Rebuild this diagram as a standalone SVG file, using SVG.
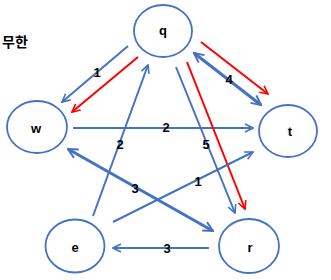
<svg xmlns="http://www.w3.org/2000/svg" width="331" height="280" viewBox="0 0 331 280">
<style>
.node{fill:#fff;stroke:#4472C4;stroke-width:1.8}
.nl{font-family:"Liberation Sans",Arial,sans-serif;font-size:13px;font-weight:bold;fill:#000;text-anchor:middle;dominant-baseline:central}
.b{stroke:#4472C4;stroke-width:2;fill:none}
.bt{stroke:#4472C4;stroke-width:3;fill:none}
.r{stroke:#FF0000;stroke-width:2;fill:none}
.el{font-family:"Liberation Sans",Arial,sans-serif;font-size:13px;font-weight:bold;fill:#000;text-anchor:middle;dominant-baseline:central}
</style>
<defs>
<marker id="ab" viewBox="0 0 10 10" refX="9" refY="5" markerWidth="5" markerHeight="5" orient="auto-start-reverse" markerUnits="strokeWidth"><path d="M1,1 L9,5 L1,9" fill="none" stroke="#4472C4" stroke-width="1.6"/></marker>
<marker id="abt" viewBox="0 0 10 10" refX="9" refY="5" markerWidth="4" markerHeight="4" orient="auto-start-reverse" markerUnits="strokeWidth"><path d="M1,1 L9,5 L1,9" fill="none" stroke="#4472C4" stroke-width="1.6"/></marker>
<marker id="ar" viewBox="0 0 10 10" refX="9" refY="5" markerWidth="5" markerHeight="5" orient="auto" markerUnits="strokeWidth"><path d="M1,1 L9,5 L1,9" fill="none" stroke="#FF0000" stroke-width="1.6"/></marker>
</defs>
<text x="2" y="41" font-family="'Noto Sans CJK KR',sans-serif" font-size="14" font-weight="bold" dominant-baseline="central">무한</text>
<g id="q"><ellipse class="node" cx="163" cy="31" rx="29" ry="26"/><text class="nl" x="163" y="30">q</text></g>
<g id="w"><ellipse class="node" cx="37" cy="127" rx="30" ry="26"/><text class="nl" x="36" y="128">w</text></g>
<g id="t"><ellipse class="node" cx="288" cy="131" rx="29" ry="26"/><text class="nl" x="290" y="131">t</text></g>
<g id="e"><ellipse class="node" cx="75" cy="246" rx="29.5" ry="26.5"/><text class="nl" x="75" y="247">e</text></g>
<g id="r"><ellipse class="node" cx="249" cy="246" rx="30" ry="27"/><text class="nl" x="250" y="247">r</text></g>
<g id="edges">
<line class="b" x1="128" y1="46" x2="62" y2="102" marker-end="url(#ab)"/>
<line class="r" x1="138" y1="57" x2="72" y2="112" marker-end="url(#ar)"/>
<line class="b" x1="73" y1="128" x2="253" y2="128" marker-end="url(#ab)"/>
<line class="b" x1="93" y1="216" x2="148" y2="65" marker-end="url(#ab)"/>
<line class="b" x1="176" y1="67" x2="235" y2="213" marker-end="url(#ab)"/>
<line class="r" x1="187" y1="62" x2="245" y2="209" marker-end="url(#ar)"/>
<line class="bt" x1="194" y1="53" x2="261" y2="105" marker-start="url(#abt)" marker-end="url(#abt)"/>
<line class="r" x1="201" y1="42" x2="268" y2="94" marker-end="url(#ar)"/>
<line class="bt" x1="68" y1="149" x2="213" y2="231" marker-start="url(#abt)" marker-end="url(#abt)"/>
<line class="b" x1="113" y1="222" x2="253" y2="152" marker-end="url(#ab)"/>
<line class="b" x1="209" y1="248" x2="113" y2="248" marker-end="url(#ab)"/>
<text class="el" x="97" y="72">1</text>
<text class="el" x="166" y="127">2</text>
<text class="el" x="120" y="144">2</text>
<text class="el" x="206" y="144">5</text>
<text class="el" x="229" y="79">4</text>
<text class="el" x="135" y="188">3</text>
<text class="el" x="198" y="181">1</text>
<text class="el" x="167" y="248">3</text>
</g>
</svg>
